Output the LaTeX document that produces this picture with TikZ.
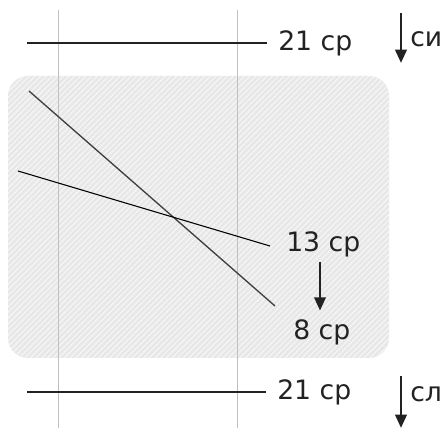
\documentclass[tikz,border=0pt]{standalone}
\usepackage{fontspec}
\setmainfont{DejaVu Sans}
\usetikzlibrary{arrows.meta,patterns.meta}
\definecolor{inkgray}{RGB}{34,34,34}
\definecolor{guidegray}{RGB}{192,192,192}
\definecolor{shadegray}{RGB}{231,231,231}
\definecolor{stripegray}{RGB}{245,245,245}
\begin{document}
\begin{tikzpicture}[x=0.75pt, y=-0.75pt,
      lbl/.style={anchor=base west, inner sep=0pt, text=inkgray, font=\fontsize{20}{24}\selectfont},
      guide/.style={draw=guidegray, line width=0.75pt},
      level/.style={draw=inkgray, line width=0.9pt},
      arr/.style={-{Triangle[length=10pt, width=8.5pt]}, draw=inkgray, line width=2pt}
    ]
      \useasboundingbox (0,0) rectangle (444,428);
      % shaded zone
      \fill[shadegray, rounded corners=15pt] (8,76) rectangle (389,358);
      \path[pattern={Lines[angle=45, distance=3pt, line width=1pt]}, pattern color=stripegray,
            rounded corners=15pt] (8,76) rectangle (389,358);
      % guides
      \draw[guide] (58,10) -- (58,428);
      \draw[guide] (237,10) -- (237,428);
      % labels
      \node[lbl] (top21) at (278,51) {21 ср};
      \node[lbl] (mid13) at (286,252) {13 ср};
      \node[lbl] (low8) at (293,340) {8 ср};
      \node[lbl] (bot21) at (277,400) {21 ср};
      \node[lbl] (si) at (410,47) {си};
      \node[lbl] (sl) at (410,402) {сл};
      % level lines
      \coordinate (topL) at (27,43);
      \coordinate (botL) at (27,392);
      \draw[level, shorten >=8pt] (topL) -- (topL -| top21.west);
      \draw[level, shorten >=8pt] (botL) -- (botL -| bot21.west);
      % crossing lines
      \coordinate (stA) at (29,91);
      \coordinate (stB) at (275,306);
      \coordinate (flA) at (18,171);
      \coordinate (flB) at (270,246);
      \draw[draw=black!75, line width=1pt] (stA) -- (stB);
      \draw[draw=black, line width=0.8pt] (flA) -- (flB);
      % arrows
      \draw[arr, shorten <=3pt, shorten >=7pt] (mid13.south -| 320,0) -- (low8.north -| 320,0);
      \coordinate (siA) at (401,13);
      \coordinate (siB) at (401,63);
      \draw[arr] (siA) -- (siB);
      \coordinate (slA) at (401,376);
      \coordinate (slB) at (401,428);
      \draw[arr] (slA) -- (slB);
    \end{tikzpicture}
\end{document}
